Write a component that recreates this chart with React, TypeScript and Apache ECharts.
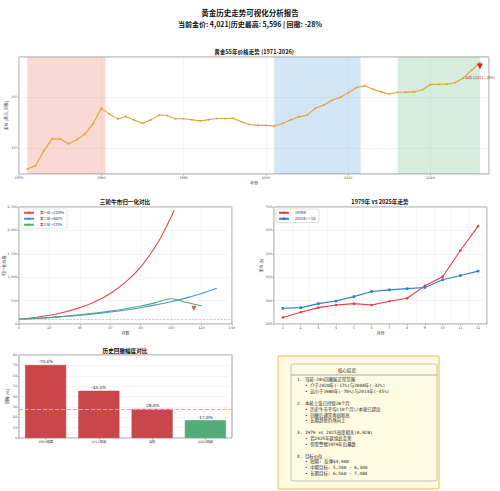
import React, { useEffect, useRef } from "react";
import * as echarts from "echarts";

// ---------- data ----------
const years = [
  1971, 1972, 1973, 1974, 1975, 1976, 1977, 1978, 1979, 1980,
  1981, 1982, 1983, 1984, 1985, 1986, 1987, 1988, 1989, 1990,
  1991, 1992, 1993, 1994, 1995, 1996, 1997, 1998, 1999, 2000,
  2001, 2002, 2003, 2004, 2005, 2006, 2007, 2008, 2009, 2010,
  2011, 2012, 2013, 2014, 2015, 2016, 2017, 2018, 2019, 2020,
  2021, 2022, 2023, 2024, 2025, 2026,
];
const goldPrices = [
  39, 45, 88, 150, 153, 121, 146, 188, 300, 608,
  464, 375, 417, 358, 309, 358, 444, 436, 376, 376,
  361, 343, 361, 382, 382, 385, 330, 290, 279, 279,
  271, 304, 358, 411, 443, 608, 696, 873, 982, 1214,
  1544, 1669, 1434, 1270, 1150, 1253, 1257, 1268, 1400, 1770,
  1790, 1800, 1940, 2386, 3400, 4800,
];
const bullSpans = [
  [1971, 1980.5],
  [2001, 2011.5],
  [2016, 2026],
];
const currentYear = 2026;
const currentPrice = 4021;
const peakPrice = 5596;
const currentDrawdown = -28;

const bullNames = ["第一轮 +2329%", "第二轮 +662%", "第三轮 +333%"];
const bullMonths1 = [0, 10, 20, 30, 40, 50, 60, 70, 80, 90, 100, 102];
const bullValues1 = [100, 137, 187, 255, 350, 478, 653, 894, 1222, 1671, 2285, 2429];
const bullMonths2 = [0, 10, 20, 30, 40, 50, 60, 70, 80, 90, 100, 110, 120, 130];
const bullValues2 = [100, 117, 137, 160, 187, 218, 255, 298, 349, 408, 477, 558, 652, 762];
const bullMonths3 = [0, 10, 20, 30, 40, 50, 60, 70, 80, 90, 100, 110, 120];
const bullValues3 = [100, 118, 140, 166, 196, 232, 275, 326, 385, 456, 540, 460, 390];
const bullCurrent = [115, 335];
const bullBase = 100;

const monthLabels = ["1", "2", "3", "4", "5", "6", "7", "8", "9", "10", "11", "12"];
const prices1979 = [228, 250, 270, 281, 287, 281, 297, 310, 363, 402, 514, 618];
const prices2025 = [267, 270, 287, 298, 317, 339, 346, 351, 356, 389, 407, 426];

const ddCategories = ["1980崩盘", "2011回调", "当前", "2020回调"];
const ddValues = [70.4, 45.5, 28.0, 17.0];

const noteTitle = "核心结论";
const noteLines = [
  "1. 当前-28%回撤属正常范围",
  "   • 介于2020年(-17%)与2008年(-32%)",
  "   • 远小于1980年(-70%)与2013年(-45%)",
  "",
  "2. 本轮上涨已持续28个月",
  "   • 历史牛市平均(19个月)/本轮已超出",
  "   • 回撤后通常再创新高",
  "   • 长期趋势仍然向上",
  "",
  "3. 1979 vs 2025高度相关(0.928)",
  "   • 若2025年延续此走势",
  "   • 但需警惕1979年后暴跌",
  "",
  "4. 目标价位",
  "   • 短期: 反弹$4,900",
  "   • 中期目标: 5,200 - 6,300",
  "   • 长期目标: 6,560 - 7,484",
];

// ---------- styling helpers ----------
const FONT = "'DejaVu Serif', 'Noto Sans CJK SC', serif";
const CJK = "'Noto Sans CJK SC', 'DejaVu Serif', serif";
const MONO = "'DejaVu Sans Mono', 'Noto Sans CJK SC', monospace";
const TICK_FS = 3.3;

function axisBase(gridIndex: number, extra: any) {
  return {
    gridIndex,
    axisLine: { show: false },
    axisTick: { show: true, length: 1.5, lineStyle: { color: "#777", width: 0.5 } },
    axisLabel: { fontSize: TICK_FS, color: "#333", margin: 2, fontFamily: FONT },
    splitLine: { show: true, lineStyle: { color: "#ebebeb", width: 0.5 } },
    nameLocation: "middle",
    nameMoveOverlap: false,
    nameTextStyle: { fontSize: 4, color: "#333", fontFamily: CJK },
    ...extra,
  };
}

const supDigits: Record<string, string> = { "0": "⁰", "1": "¹", "2": "²", "3": "³", "4": "⁴" };

function titleText(text: string, x: number, y: number, size: number) {
  return {
    type: "text",
    style: {
      text,
      x,
      y,
      fill: "#111",
      fontSize: size,
      fontWeight: "bold",
      fontFamily: CJK,
      align: "center",
      verticalAlign: "middle",
      textAlign: "center",
      textVerticalAlign: "middle",
    },
  };
}

export default function App() {
  const ref = useRef<HTMLDivElement>(null);

  useEffect(() => {
    if (!ref.current) return;
    const chart = echarts.init(ref.current, undefined, { renderer: "svg" });

    const gridStyle = {
      show: true,
      borderColor: "#9a9a9a",
      borderWidth: 1,
      backgroundColor: "#fff",
      containLabel: false,
      outerBoundsMode: "none",
    };

    const option: any = {
      animation: false,
      backgroundColor: "#fff",
      textStyle: { fontFamily: FONT },
      grid: [
        { left: 19, top: 57, width: 470, height: 117, ...gridStyle },
        { left: 19, top: 207, width: 213, height: 117, ...gridStyle },
        { left: 274, top: 207, width: 213, height: 117, ...gridStyle },
        { left: 19, top: 355, width: 213, height: 83, ...gridStyle },
      ],
      xAxis: [
        axisBase(0, {
          type: "value",
          min: 1970,
          max: 2027.1,
          splitNumber: 6,
          name: "年份",
          nameGap: 7,
          axisLabel: {
            fontSize: TICK_FS, color: "#333", margin: 2, fontFamily: FONT,
            showMaxLabel: false,
            formatter: (v: number) => (v % 10 === 0 ? String(v) : ""),
          },
        }),
        axisBase(1, {
          type: "value",
          min: 0,
          max: 140,
          interval: 20,
          name: "月数",
          nameGap: 7,
        }),
        axisBase(2, {
          type: "category",
          data: monthLabels,
          boundaryGap: true,
          name: "月份",
          nameGap: 7,
          axisTick: { show: true, length: 1.5, alignWithLabel: true, lineStyle: { color: "#777", width: 0.5 } },
          splitLine: { show: true, interval: 0, lineStyle: { color: "#ebebeb", width: 0.5 } },
        }),
        axisBase(3, {
          type: "category",
          data: ddCategories,
          boundaryGap: true,
          axisTick: { show: true, length: 1.5, alignWithLabel: true, lineStyle: { color: "#777", width: 0.5 } },
          splitLine: { show: false },
        }),
      ],
      yAxis: [
        axisBase(0, {
          type: "log",
          logBase: 10,
          min: 31,
          max: 6150,
          name: "金价 (美元, 对数)",
          nameGap: 11,
          axisLabel: {
            fontSize: TICK_FS, color: "#333", margin: 2, fontFamily: FONT,
            showMinLabel: false,
            showMaxLabel: false,
            formatter: (v: number) => {
              const e = Math.log10(v);
              const r = Math.round(e);
              if (Math.abs(e - r) > 1e-6) return "";
              return "10" + String(r).split("").map((d) => supDigits[d] || d).join("");
            },
          },
        }),
        axisBase(1, {
          type: "value",
          min: 0,
          max: 2500,
          interval: 500,
          name: "归一化价格",
          nameGap: 13,
        }),
        axisBase(2, {
          type: "value",
          min: 200,
          max: 700,
          interval: 100,
          name: "金价 ($)",
          nameGap: 11,
        }),
        axisBase(3, {
          type: "value",
          min: 0,
          max: 80,
          interval: 10,
          name: "回撤 (%)",
          nameGap: 10,
        }),
      ],
      legend: [
        {
          data: bullNames,
          orient: "vertical",
          left: 21,
          top: 209,
          itemWidth: 10,
          itemHeight: 3,
          itemGap: 2.5,
          padding: [2, 3, 2, 2],
          backgroundColor: "rgba(255,255,255,0.9)",
          borderColor: "#d8d8d8",
          borderWidth: 0.5,
          borderRadius: 2,
          textStyle: { fontSize: 3.5, color: "#333", fontFamily: CJK, padding: [0, 0, 0, 1] },
        },
        {
          data: ["1979年", "2025年(÷10)"],
          orient: "vertical",
          left: 276,
          top: 209,
          itemWidth: 10,
          itemHeight: 3,
          itemGap: 2.5,
          padding: [2, 3, 2, 2],
          backgroundColor: "rgba(255,255,255,0.9)",
          borderColor: "#c8c0b0",
          borderWidth: 0.5,
          borderRadius: 2,
          textStyle: { fontSize: 3.5, color: "#333", fontFamily: CJK, padding: [0, 0, 0, 1] },
        },
      ],
      series: [
        // ---- top: 55-year trend ----
        {
          type: "line",
          name: "金价",
          xAxisIndex: 0,
          yAxisIndex: 0,
          data: years.map((y, i) => [y, goldPrices[i]]),
          symbol: "circle",
          symbolSize: 1.8,
          lineStyle: { color: "#e3a12f", width: 1.1 },
          itemStyle: { color: "#e3a12f" },
          z: 3,
          markArea: {
            silent: true,
            label: { show: false },
            data: bullSpans.map((s, i) => [
              {
                xAxis: s[0],
                itemStyle: {
                  color: ["rgba(231,76,60,0.22)", "rgba(52,140,212,0.22)", "rgba(46,160,90,0.2)"][i],
                },
              },
              { xAxis: s[1] },
            ]),
          },
          markPoint: {
            silent: true,
            symbol: "triangle",
            symbolRotate: 180,
            symbolSize: 6,
            itemStyle: { color: "#d62728" },
            label: {
              show: true,
              position: "bottom",
              distance: 6,
              formatter: () =>
                `当前 $${currentPrice.toLocaleString("en-US")} (${Math.round(
                  ((currentPrice - peakPrice) / peakPrice) * 100
                )}%)`,
              fontSize: 3.5,
              color: "#d62728",
              fontFamily: CJK,
            },
            data: [{ coord: [currentYear, currentPrice] }],
          },
        },
        // ---- middle-left: bull markets ----
        {
          type: "line",
          name: bullNames[0],
          xAxisIndex: 1,
          yAxisIndex: 1,
          data: bullMonths1.map((m, i) => [m, bullValues1[i]]),
          smooth: 0.5,
          symbol: "none",
          lineStyle: { color: "#e8494b", width: 1.1 },
          itemStyle: { color: "#e8494b" },
          markLine: {
            silent: true,
            symbol: "none",
            label: { show: false },
            lineStyle: { color: "#aaa", type: "dashed", width: 0.6 },
            data: [{ yAxis: bullBase }],
          },
        },
        {
          type: "line",
          name: bullNames[1],
          xAxisIndex: 1,
          yAxisIndex: 1,
          data: bullMonths2.map((m, i) => [m, bullValues2[i]]),
          smooth: 0.5,
          symbol: "none",
          lineStyle: { color: "#4a90d9", width: 1.1 },
          itemStyle: { color: "#4a90d9" },
        },
        {
          type: "line",
          name: bullNames[2],
          xAxisIndex: 1,
          yAxisIndex: 1,
          data: bullMonths3.map((m, i) => [m, bullValues3[i]]),
          smooth: 0.3,
          symbol: "none",
          lineStyle: { color: "#4fae74", width: 1.1 },
          itemStyle: { color: "#4fae74" },
        },
        {
          type: "scatter",
          xAxisIndex: 1,
          yAxisIndex: 1,
          data: [bullCurrent],
          symbol: "triangle",
          symbolRotate: 180,
          symbolSize: 5,
          itemStyle: { color: "#d62728" },
        },
        // ---- middle-right: 1979 vs 2025 ----
        {
          type: "line",
          name: "1979年",
          xAxisIndex: 2,
          yAxisIndex: 2,
          data: prices1979,
          symbol: "circle",
          symbolSize: 2.6,
          lineStyle: { color: "#e8393c", width: 1.1 },
          itemStyle: { color: "#e8393c" },
        },
        {
          type: "line",
          name: "2025年(÷10)",
          xAxisIndex: 2,
          yAxisIndex: 2,
          data: prices2025,
          symbol: "rect",
          symbolSize: 2.6,
          lineStyle: { color: "#2b7fd6", width: 1.1 },
          itemStyle: { color: "#2b7fd6" },
        },
        // ---- bottom-left: drawdowns ----
        {
          type: "bar",
          xAxisIndex: 3,
          yAxisIndex: 3,
          barWidth: "77%",
          data: ddValues.map((v, i) => ({
            value: v,
            itemStyle: {
              color: i === ddValues.length - 1 ? "#52ad79" : "#c9474b",
              borderColor: i === ddValues.length - 1 ? "#3f9a66" : "#b53a3e",
              borderWidth: 0.5,
            },
          })),
          label: {
            show: true,
            position: "top",
            distance: 1,
            formatter: (p: any) => `-${Number(p.value).toFixed(1)}%`,
            fontSize: 4.3,
            color: "#222",
            fontFamily: FONT,
          },
        },
        {
          type: "line",
          xAxisIndex: 3,
          yAxisIndex: 3,
          data: [],
          z: 10,
          markLine: {
            silent: true,
            symbol: "none",
            label: { show: false },
            itemStyle: { color: "#f2c200" },
            lineStyle: { color: "#f2c200", type: "dashed", width: 1 },
            data: [{ yAxis: -currentDrawdown }],
          },
        },
      ],
      graphic: [
        titleText("黄金历史走势可视化分析报告", 250, 12, 7.5),
        titleText(
          `当前金价: ${currentPrice.toLocaleString("en-US")}|历史最高: ${peakPrice.toLocaleString(
            "en-US"
          )} | 回撤: ${currentDrawdown}%`,
          250,
          24,
          7
        ),
        titleText("黄金55年价格走势 (1971-2026)", 254, 52, 5.6),
        titleText("三轮牛市归一化对比", 125, 202, 5.6),
        titleText("1979年 vs 2025年走势", 380, 202, 5.6),
        titleText("历史回撤幅度对比", 125, 351, 5.6),
        // conclusions box
        {
          type: "rect",
          shape: { x: 278, y: 356, width: 161, height: 133, r: 1 },
          style: { fill: "#fffbe2", stroke: "#f3b84a", lineWidth: 1 },
        },
        {
          type: "rect",
          shape: { x: 291, y: 364, width: 146, height: 117, r: 2 },
          style: { fill: "none", stroke: "#8a8a8a", lineWidth: 0.5 },
        },
        {
          type: "line",
          shape: { x1: 291, y1: 375, x2: 437, y2: 375 },
          style: { stroke: "#8a8a8a", lineWidth: 0.7 },
        },
        {
          type: "text",
          style: {
            text: noteTitle,
            x: 347,
            y: 370,
            fill: "#222",
            fontSize: 4.5,
            fontFamily: MONO,
            align: "center",
            verticalAlign: "middle",
            textAlign: "center",
            textVerticalAlign: "middle",
          },
        },
        {
          type: "text",
          style: {
            text: noteLines.join("\n"),
            x: 297,
            y: 377,
            fill: "#222",
            fontSize: 4.4,
            lineHeight: 5.86,
            fontFamily: MONO,
            align: "left",
            verticalAlign: "top",
            textAlign: "left",
            textVerticalAlign: "top",
          },
        },
      ],
    };

    chart.setOption(option);
    return () => chart.dispose();
  }, []);

  return (
    <div
      ref={ref}
      style={{ position: "fixed", left: 0, top: 0, width: 500, height: 491, background: "#fff" }}
    />
  );
}
